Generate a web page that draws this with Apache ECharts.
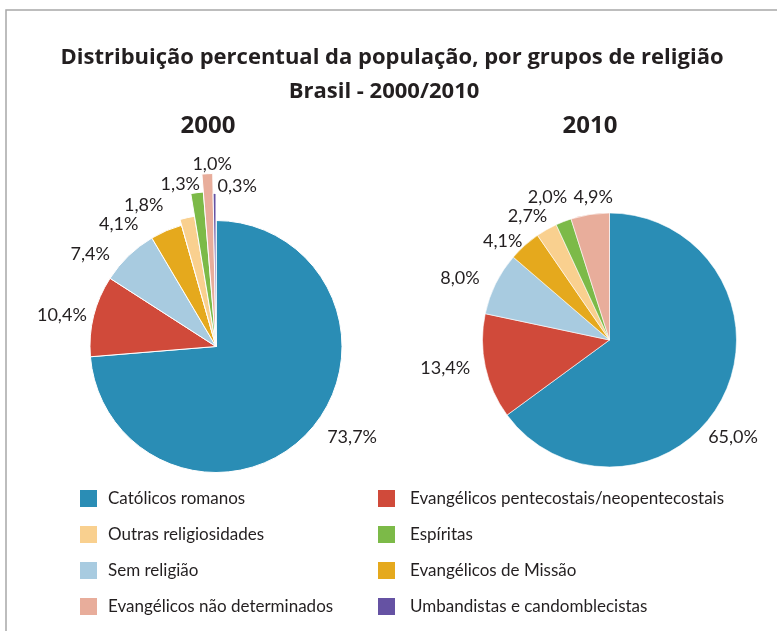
<!DOCTYPE html>
<html>
<head>
<meta charset="utf-8">
<script src="https://cdn.jsdelivr.net/npm/echarts@6/dist/echarts.min.js"></script>
<style>
html,body{margin:0;padding:0;background:#fff;}
#chart{width:777px;height:631px;}
</style>
</head>
<body>
<div id="chart"></div>
<script>
// ---------- DATA ----------
const categories = [
  'Católicos romanos',
  'Evangélicos pentecostais/neopentecostais',
  'Sem religião',
  'Evangélicos de Missão',
  'Outras religiosidades',
  'Espíritas',
  'Evangélicos não determinados',
  'Umbandistas e candomblecistas'
];
const values2000 = [73.7, 10.4, 7.4, 4.1, 1.8, 1.3, 1.0, 0.3];
const values2010 = [65.0, 13.4, 8.0, 4.1, 2.7, 2.0, 4.9, null];
const legendLeftItems = ['Católicos romanos', 'Outras religiosidades', 'Sem religião', 'Evangélicos não determinados'];
const legendRightItems = ['Evangélicos pentecostais/neopentecostais', 'Espíritas', 'Evangélicos de Missão', 'Umbandistas e candomblecistas'];
const titleLines = ['Distribuição percentual da população, por grupos de religião', 'Brasil - 2000/2010'];
const yearTitles = ['2000', '2010'];

// ---------- STYLE ----------
const FONT = 'Lato, "Open Sans", sans-serif';
const TITLE_FONT = '"Open Sans", Lato, sans-serif';
const TEXT = '#231f20';
const colors = {
  'Católicos romanos': '#2a8db5',
  'Evangélicos pentecostais/neopentecostais': '#d04a3a',
  'Sem religião': '#a8cbe0',
  'Evangélicos de Missão': '#e5a91d',
  'Outras religiosidades': '#f9d08f',
  'Espíritas': '#7cba48',
  'Evangélicos não determinados': '#e8ad9b',
  'Umbandistas e candomblecistas': '#6552a3'
};
// label placement (labelLine length, length2) per slice
const labelLines2000 = {
  'Católicos romanos': [7.5, 8],
  'Evangélicos pentecostais/neopentecostais': [2, 0],
  'Sem religião': [2.4, 12],
  'Evangélicos de Missão': [7.3, 20],
  'Outras religiosidades': [13, 16],
  'Espíritas': [8.7, -9],
  'Evangélicos não determinados': [9.7, -30],
  'Umbandistas e candomblecistas': [7.5, -47.5]
};
const labelLines2010 = {
  'Católicos romanos': [89, -99],
  'Evangélicos pentecostais/neopentecostais': [9, 1.4],
  'Sem religião': [11.3, 0.9],
  'Evangélicos de Missão': [5.4, -6.4],
  'Outras religiosidades': [15.3, -13.2],
  'Espíritas': [26, -18],
  'Evangélicos não determinados': [17.7, -30.6]
};
// outer radius of the highlighted thin slices in 2000
const popRadius2000 = {
  'Outras religiosidades': 132,
  'Espíritas': 155,
  'Evangélicos não determinados': 173,
  'Umbandistas e candomblecistas': 153
};

function fmt(v) { return v.toFixed(1).replace('.', ',') + '%'; }

function items(values, lines, isVisible, isLabeled, borderW) {
  const out = [];
  categories.forEach((name, i) => {
    const v = values[i];
    if (v == null) return;
    const ll = lines[name] || [5, 5];
    const vis = isVisible(name);
    out.push({
      name: name,
      value: v,
      itemStyle: vis ? { color: colors[name], borderColor: '#fff', borderWidth: borderW }
                     : { color: 'rgba(0,0,0,0)', borderWidth: 0 },
      label: { show: isLabeled(name) },
      labelLine: { show: false, length: ll[0], length2: ll[1] }
    });
  });
  return out;
}

const baseLabel = {
  position: 'outside',
  fontSize: 18,
  fontFamily: FONT,
  color: TEXT,
  formatter: p => fmt(p.value)
};

function pie(center, radius, data, silent) {
  return {
    type: 'pie',
    center: center,
    radius: radius,
    startAngle: 90,
    clockwise: true,
    avoidLabelOverlap: false,
    silent: !!silent,
    emphasis: { disabled: true, scale: false },
    label: baseLabel,
    labelLine: { show: false },
    data: data
  };
}

const c2000 = [216, 346.5], r2000 = 126;
const c2010 = [609.5, 340], r2010 = 127;

const series = [
  pie(c2000, r2000, items(values2000, labelLines2000, () => true, n => !popRadius2000[n], 1)),
  pie(c2010, r2010, items(values2010, labelLines2010, () => true, () => true, 0.6))
];
Object.keys(popRadius2000).forEach(target => {
  series.push(pie(c2000, popRadius2000[target],
    items(values2000, labelLines2000, n => n === target, n => n === target, 1), true));
});

const legendCommon = {
  orient: 'vertical',
  top: 490,
  padding: 0,
  itemWidth: 17,
  itemHeight: 17,
  itemGap: 19,
  icon: 'rect',
  selectedMode: false,
  itemStyle: { borderWidth: 0 },
  textStyle: { fontSize: 17, fontFamily: FONT, color: TEXT }
};

const option = {
  animation: false,
  backgroundColor: '#fff',
  graphic: [
    { type: 'polyline', silent: true, shape: { points: [[6, 631], [6, 10], [777, 10]] },
      style: { stroke: '#a8a8a8', lineWidth: 1.5, fill: null } },
    { type: 'text', silent: true, x: 392, y: 58,
      style: { text: titleLines[0], font: 'bold 22px ' + TITLE_FONT, fill: TEXT, align: 'center', verticalAlign: 'middle' } },
    { type: 'text', silent: true, x: 384, y: 92,
      style: { text: titleLines[1], font: 'bold 22px ' + TITLE_FONT, fill: TEXT, align: 'center', verticalAlign: 'middle' } },
    { type: 'text', silent: true, x: 208, y: 126,
      style: { text: yearTitles[0], font: 'bold 24px ' + TITLE_FONT, fill: TEXT, align: 'center', verticalAlign: 'middle' } },
    { type: 'text', silent: true, x: 590, y: 126,
      style: { text: yearTitles[1], font: 'bold 24px ' + TITLE_FONT, fill: TEXT, align: 'center', verticalAlign: 'middle' } }
  ],
  legend: [
    Object.assign({}, legendCommon, { left: 80, data: legendLeftItems,
      textStyle: Object.assign({}, legendCommon.textStyle, { padding: [0, 0, 0, 6] }) }),
    Object.assign({}, legendCommon, { left: 378, data: legendRightItems,
      textStyle: Object.assign({}, legendCommon.textStyle, { padding: [0, 0, 0, 10] }) })
  ],
  series: series
};

const chart = echarts.init(document.getElementById('chart'), null, { renderer: 'canvas' });
chart.setOption(option);
</script>
</body>
</html>
